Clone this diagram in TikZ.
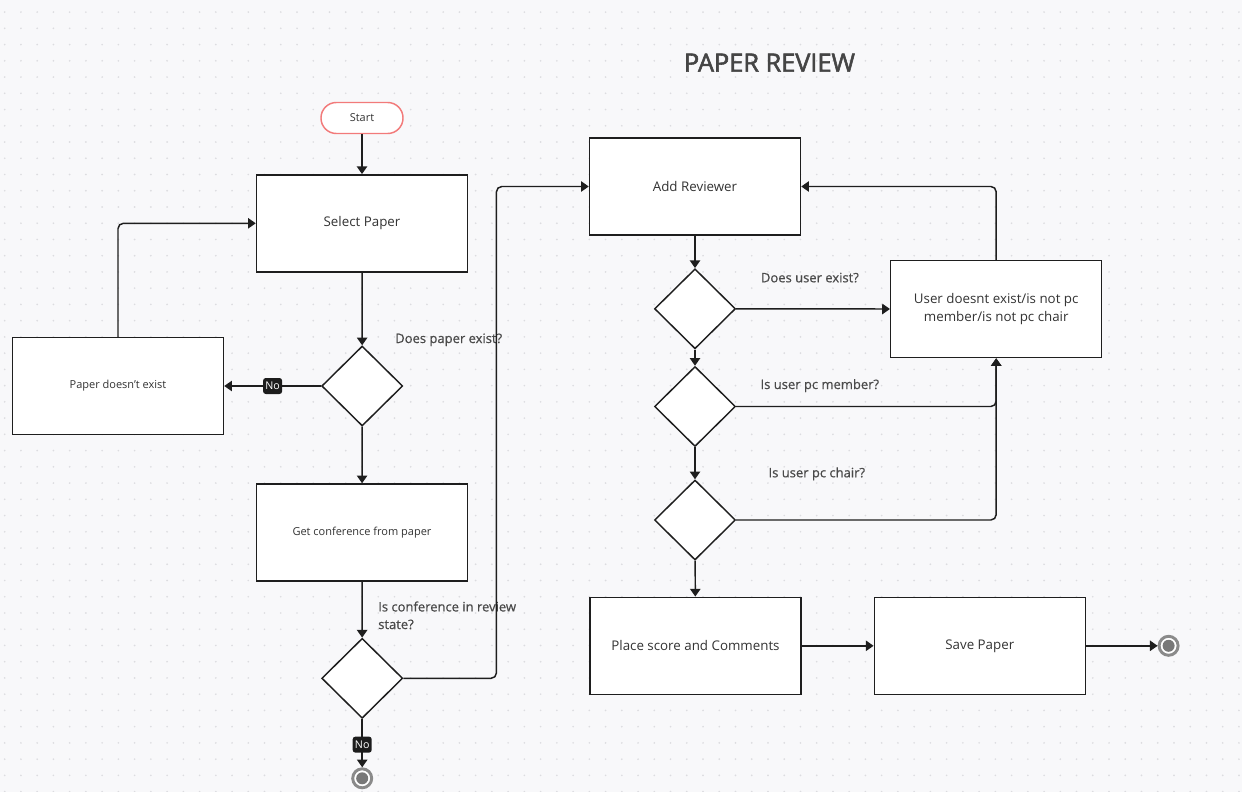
\documentclass[tikz,border=0pt]{standalone}
\usepackage{fontspec}
\setmainfont{Open Sans}
\newfontfamily\semib{Open Sans}[FakeBold=2.2]
\newfontfamily\medf{Open Sans}[FakeBold=0.6]
\usetikzlibrary{shapes.geometric,arrows.meta}
\definecolor{bgc}{HTML}{F8F8FA}
\definecolor{dotc}{HTML}{DCDCE0}
\definecolor{linec}{HTML}{1E1E1E}
\definecolor{boxtxt}{HTML}{333333}
\definecolor{labtxt}{HTML}{4A4A4A}
\definecolor{titlec}{HTML}{454545}
\definecolor{startc}{HTML}{F27A7A}
\definecolor{endring}{HTML}{8A8A8A}
\definecolor{endfill}{HTML}{787878}
\definecolor{badgec}{HTML}{1C1C1C}
\begin{document}
\begin{tikzpicture}[x=0.75pt,y=-0.75pt,
  box/.style={draw=linec,line width=1.1pt,fill=white,inner sep=0pt,
    minimum width=158.25pt,minimum height=72.75pt,text=boxtxt,align=center,
    font=\fontsize{10}{13.2}\selectfont},
  smallbox/.style={box,font=\fontsize{8.25}{10}\selectfont},
  dec/.style={diamond,draw=linec,line width=1.1pt,fill=white,inner sep=0pt,
    minimum width=60.75pt,minimum height=60pt},
  pill/.style={draw=startc,line width=1.1pt,fill=white,rounded corners=11.5pt,
    minimum width=61.5pt,minimum height=23.25pt,inner sep=0pt,text=boxtxt,
    font=\fontsize{8.2}{10}\selectfont},
  endc/.style={circle,draw=endring,line width=2.2pt,fill=white,minimum size=14.25pt,
    inner sep=0pt,path picture={\fill[endfill] (path picture bounding box.center) circle (4.5pt);}},
  arr/.style={draw=linec,line width=1.1pt,-{Triangle[width=7.8pt,length=5.8pt]}},
  rc/.style={rounded corners=4pt},
  badge/.style={fill=badgec,text=white,rounded corners=2pt,inner sep=0pt,
    minimum width=14.25pt,minimum height=12pt,font=\fontsize{8}{9}\selectfont},
  lab/.style={anchor=base west,inner sep=0pt,text=labtxt,font=\medf\fontsize{9.75}{13.2}\selectfont}
]
\fill[bgc] (0,0) rectangle (1242,792);
\useasboundingbox (0,0) rectangle (1242,792);
\foreach \i in {0,...,76}{\foreach \j in {0,...,48}{\fill[dotc] (4.7+\i*16.24,12.1+\j*16.24) circle (0.7pt);}}

\node[anchor=base,inner sep=0pt,text=titlec,font=\semib\fontsize{19}{22}\selectfont] (title) at (769.5,71.7) {PAPER REVIEW};

% left column
\node[pill] (start) at (362,118) {Start};
\node[box] (sel) at (362,223.3) {Select Paper};
\node[dec] (d1) at (362.2,386) {};
\node[smallbox] (pde) at (118,386) {Paper doesn’t exist};
\node[smallbox] (gc) at (362,532.5) {Get conference from paper};
\node[dec] (d2) at (362.2,678.3) {};
\node[endc] (end1) at (362.2,778.3) {};

% right column
\node[box] (ar) at (695,186.5) {Add Reviewer};
\node[dec] (d3) at (695,308.8) {};
\node[box] (ud) at (996.2,309) {User doesnt exist/is not pc\\member/is not pc chair};
\node[dec] (d4) at (695,406.5) {};
\node[dec] (d5) at (695,520) {};
\node[box] (ps) at (695.5,645.8) {Place score and Comments};
\node[box] (sp) at (979.8,645.8) {Save Paper};
\node[endc] (end2) at (1168.6,645.8) {};

% labels
\node[lab] (l1) at (395,343) {Does paper exist?};
\node[lab,anchor=north west,align=left] (l2) at (378,601.2) {Is conference in review\\state?};
\node[lab] (l3) at (760.7,282.3) {Does user exist?};
\node[lab] (l4) at (760.3,389) {Is user pc member?};
\node[lab] (l5) at (768.3,477.3) {Is user pc chair?};

% connectors
\draw[arr] (start) -- (sel);
\draw[arr] (sel) -- (d1);
\draw[arr] (d1.west) -- node[badge] (no1) {No} (pde.east);
\draw[arr,rc] (pde.north) |- (sel.west);
\draw[arr] (d1) -- (gc);
\draw[arr] (gc) -- (d2);
\draw[arr,rc] (d2.east) -- ++(93,0) |- (ar.west);
\draw[arr] (d2) -- node[badge,pos=0.53] (no2) {No} (end1);

\draw[arr] (ar) -- (d3);
\draw[arr] (d3.east) -- (ud.west);
\draw[arr,rc] (ud.north) |- (ar.east);
\draw[arr] (d3) -- (d4);
\draw[arr,rc] (d4.east) -| (ud.south);
\draw[arr] (d4) -- (d5);
\draw[arr,rc] (d5.east) -| (ud.south);
\draw[arr] (d5) -- (ps);
\draw[arr] (ps) -- (sp);
\draw[arr] (sp) -- (end2);
\end{tikzpicture}
\end{document}
